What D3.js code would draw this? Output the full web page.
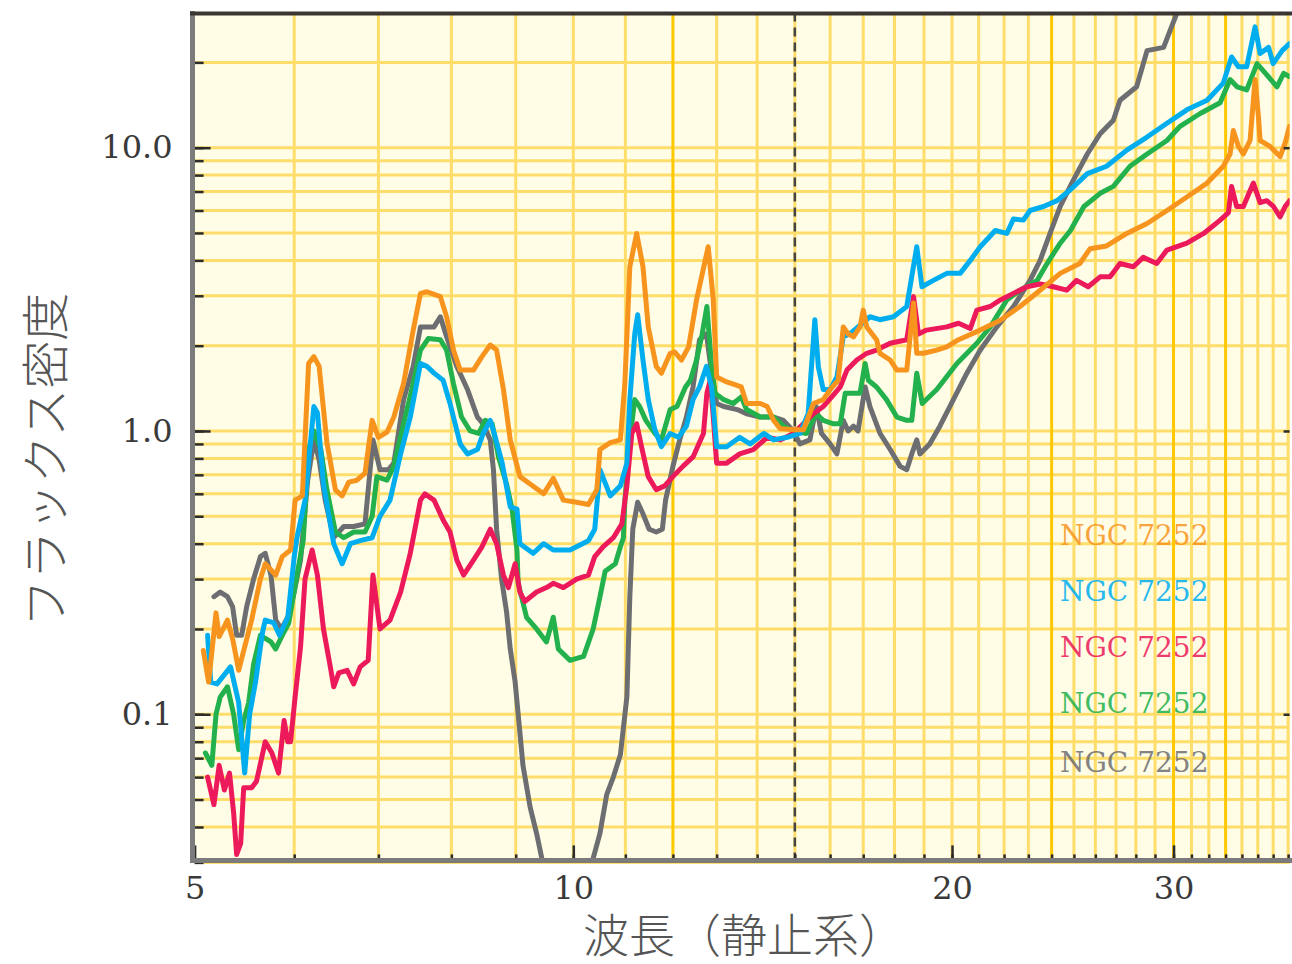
<!DOCTYPE html>
<html><head><meta charset="utf-8">
<script src="https://cdn.jsdelivr.net/npm/d3@7"></script>
<style>
html,body{margin:0;padding:0;background:#fff;}
svg{display:block;}
</style></head>
<body>
<svg id="chart" width="1292" height="964"></svg>
<script>
// ---------- data ----------
const xTickLabels = [5, 10, 20, 30];
const yTickLabels = [0.1, 1, 10];
const yTickText = ["0.1", "1.0", "10.0"];
const legendNames = ["NGC 7252", "NGC 7252", "NGC 7252", "NGC 7252", "NGC 7252"];
const restFrameBreak = 15;

const orangeSeries = [[5.08,0.168],[5.13,0.13],[5.20,0.228],[5.23,0.188],[5.31,0.215],[5.36,0.185],[5.42,0.143],[5.48,0.173],[5.55,0.215],[5.64,0.30],[5.69,0.34],[5.80,0.31],[5.87,0.36],[5.96,0.38],[6.01,0.57],[6.09,0.59],[6.16,1.73],[6.22,1.83],[6.28,1.69],[6.37,0.91],[6.47,0.62],[6.55,0.59],[6.63,0.66],[6.73,0.67],[6.83,0.71],[6.92,1.09],[7.0,0.95],[7.11,0.99],[7.20,1.12],[7.33,1.47],[7.46,2.27],[7.56,3.06],[7.65,3.1],[7.84,2.98],[7.93,2.53],[8.03,1.93],[8.13,1.64],[8.33,1.64],[8.46,1.83],[8.59,2.01],[8.69,1.93],[8.80,1.40],[8.91,0.93],[9.07,0.69],[9.24,0.65],[9.47,0.60],[9.64,0.68],[9.82,0.57],[10.06,0.56],[10.28,0.55],[10.44,0.62],[10.5,0.86],[10.7,0.91],[10.9,0.93],[10.99,1.48],[11.09,3.8],[11.23,4.98],[11.36,3.8],[11.47,2.33],[11.64,1.69],[11.75,1.6],[11.94,1.88],[12.04,1.9],[12.19,1.78],[12.35,1.98],[12.53,2.9],[12.8,4.47],[12.92,2.9],[13.0,1.55],[13.24,1.49],[13.6,1.43],[13.73,1.25],[14.08,1.25],[14.26,1.22],[14.43,1.09],[14.6,1.02],[14.96,1.01],[15.24,1.01],[15.52,1.25],[15.8,1.29],[16.0,1.40],[16.24,1.51],[16.39,2.33],[16.54,2.2],[16.7,2.15],[16.9,2.33],[17.0,2.67],[17.11,2.33],[17.42,2.1],[17.53,1.88],[17.86,1.78],[18.08,1.64],[18.41,1.64],[18.64,2.83],[18.75,1.88],[18.98,1.88],[19.45,1.93],[19.81,1.98],[20.24,2.1],[21.06,2.27],[21.85,2.46],[22.65,2.75],[23.5,3.14],[24.38,3.6],[25.27,3.9],[25.75,4.4],[26.54,4.5],[27.54,4.98],[28.58,5.4],[29.64,6.0],[30.74,6.7],[31.9,7.5],[32.86,8.6],[33.27,9.5],[33.47,11.5],[33.78,10.1],[34.09,9.5],[34.51,10.6],[34.83,17.4],[35.04,12.9],[35.15,10.6],[35.8,10.1],[36.46,9.3],[36.8,10.4],[37.1,11.9]];

const blueSeries = [[5.12,0.19],[5.15,0.13],[5.21,0.128],[5.34,0.147],[5.42,0.11],[5.48,0.062],[5.53,0.10],[5.59,0.13],[5.66,0.193],[5.69,0.215],[5.78,0.21],[5.84,0.19],[5.93,0.22],[6.0,0.36],[6.03,0.42],[6.12,0.57],[6.22,1.22],[6.26,1.16],[6.33,0.65],[6.45,0.40],[6.55,0.34],[6.65,0.40],[6.77,0.41],[6.92,0.42],[7.02,0.50],[7.15,0.57],[7.29,0.83],[7.42,1.12],[7.56,1.73],[7.65,1.69],[7.75,1.6],[7.88,1.51],[7.98,1.25],[8.13,0.90],[8.24,0.83],[8.39,0.86],[8.48,0.98],[8.59,1.09],[8.67,0.95],[8.78,0.77],[8.91,0.54],[9.02,0.53],[9.07,0.40],[9.29,0.37],[9.47,0.40],[9.64,0.38],[9.94,0.38],[10.28,0.41],[10.4,0.45],[10.5,0.73],[10.7,0.59],[10.9,0.64],[11.03,0.77],[11.09,1.29],[11.19,2.2],[11.25,2.57],[11.36,1.78],[11.47,1.29],[11.61,1.01],[11.75,0.88],[11.94,0.98],[12.12,0.95],[12.3,1.04],[12.45,1.29],[12.6,1.43],[12.76,1.69],[12.88,1.43],[13.0,0.88],[13.24,0.88],[13.56,0.95],[13.82,0.90],[14.17,0.98],[14.43,0.93],[14.79,0.95],[15.14,0.98],[15.37,1.15],[15.56,2.47],[15.66,1.68],[15.8,1.40],[16.0,1.40],[16.2,1.55],[16.39,2.15],[16.59,2.2],[17.21,2.53],[17.53,2.47],[17.97,2.53],[18.41,2.75],[18.75,4.47],[18.93,3.23],[19.33,3.4],[19.81,3.6],[20.3,3.6],[20.68,4.0],[21.06,4.47],[21.65,5.1],[22.11,4.98],[22.38,5.6],[22.79,5.55],[23.07,6.0],[23.65,6.2],[24.24,6.5],[24.84,7.1],[25.62,8.1],[26.54,8.6],[27.54,9.8],[28.58,10.9],[29.64,12.2],[30.74,13.6],[31.9,14.7],[32.86,16.9],[33.36,20.9],[33.78,19.3],[34.3,19.3],[34.83,26.7],[35.15,21.5],[35.7,22.6],[36.0,19.8],[36.6,22],[37.1,23.3]];

const pinkSeries = [[5.12,0.06],[5.18,0.048],[5.23,0.066],[5.28,0.054],[5.33,0.062],[5.37,0.045],[5.40,0.032],[5.44,0.035],[5.47,0.055],[5.55,0.055],[5.60,0.058],[5.69,0.08],[5.76,0.073],[5.83,0.062],[5.89,0.095],[5.93,0.08],[5.96,0.08],[6.01,0.115],[6.07,0.173],[6.12,0.30],[6.20,0.38],[6.26,0.31],[6.33,0.20],[6.41,0.147],[6.45,0.125],[6.51,0.14],[6.61,0.143],[6.69,0.128],[6.77,0.147],[6.87,0.155],[6.93,0.31],[7.02,0.20],[7.15,0.215],[7.29,0.27],[7.42,0.37],[7.56,0.57],[7.62,0.60],[7.75,0.57],[7.88,0.485],[7.98,0.44],[8.08,0.35],[8.18,0.31],[8.33,0.35],[8.46,0.39],[8.59,0.45],[8.69,0.40],[8.8,0.31],[8.88,0.28],[8.99,0.34],[9.07,0.27],[9.15,0.25],[9.35,0.27],[9.52,0.28],[9.64,0.29],[9.82,0.28],[10.06,0.30],[10.28,0.31],[10.4,0.36],[10.56,0.39],[10.76,0.42],[10.93,0.47],[11.03,0.64],[11.13,0.98],[11.23,1.06],[11.33,0.88],[11.47,0.69],[11.64,0.62],[11.82,0.64],[12.0,0.69],[12.22,0.75],[12.45,0.81],[12.69,0.98],[12.77,1.36],[12.85,1.51],[12.92,1.12],[13.0,0.77],[13.24,0.77],[13.56,0.83],[13.9,0.86],[14.26,0.95],[14.6,0.93],[14.96,0.98],[15.52,1.15],[15.8,1.22],[16.05,1.32],[16.3,1.43],[16.5,1.64],[16.8,1.78],[17.11,1.88],[17.42,1.93],[17.86,2.04],[18.41,2.1],[18.64,2.98],[18.81,2.2],[19.09,2.27],[19.81,2.33],[20.24,2.4],[20.68,2.3],[20.93,2.67],[21.45,2.75],[21.85,2.9],[22.38,3.06],[22.94,3.23],[23.5,3.3],[24.08,3.23],[24.67,3.14],[25.12,3.4],[25.66,3.23],[26.23,3.5],[26.71,3.5],[27.2,3.9],[27.87,3.8],[28.38,4.1],[29.09,3.9],[29.64,4.35],[30.74,4.6],[31.7,4.98],[32.67,5.55],[33.17,5.9],[33.36,7.3],[33.67,6.2],[34.09,6.2],[34.72,7.5],[35.15,6.4],[35.58,6.5],[36.02,6.2],[36.46,5.7],[36.8,6.2],[37.1,6.5]];

const greenSeries = [[5.10,0.073],[5.16,0.066],[5.20,0.10],[5.24,0.115],[5.31,0.125],[5.37,0.10],[5.42,0.075],[5.47,0.095],[5.52,0.11],[5.57,0.15],[5.64,0.19],[5.75,0.18],[5.80,0.17],[5.87,0.19],[5.94,0.21],[6.03,0.31],[6.10,0.41],[6.16,0.86],[6.22,1.0],[6.30,0.86],[6.37,0.62],[6.47,0.44],[6.57,0.42],[6.69,0.44],[6.83,0.44],[6.92,0.50],[6.98,0.69],[7.11,0.67],[7.20,0.75],[7.33,1.06],[7.46,1.47],[7.56,1.93],[7.67,2.12],[7.84,2.1],[7.93,1.93],[8.03,1.47],[8.15,1.12],[8.28,1.0],[8.41,0.98],[8.51,1.09],[8.62,1.06],[8.72,0.81],[8.85,0.65],[8.94,0.53],[9.02,0.38],[9.04,0.29],[9.18,0.22],[9.35,0.20],[9.52,0.18],[9.64,0.22],[9.73,0.17],[9.94,0.155],[10.19,0.16],[10.37,0.20],[10.5,0.26],[10.6,0.32],[10.8,0.34],[10.9,0.39],[10.96,0.42],[10.99,0.57],[11.09,0.93],[11.19,1.29],[11.29,1.22],[11.42,1.09],[11.61,0.98],[11.75,0.93],[11.94,1.19],[12.09,1.22],[12.28,1.43],[12.39,1.51],[12.53,1.78],[12.66,2.2],[12.77,2.75],[12.88,1.69],[12.96,1.36],[13.17,1.29],[13.4,1.25],[13.6,1.32],[13.73,1.19],[14.08,1.12],[14.43,1.12],[14.69,1.04],[14.96,1.0],[15.32,0.98],[15.6,1.15],[15.8,1.09],[16.1,1.06],[16.3,1.06],[16.45,1.36],[16.9,1.36],[17.06,1.73],[17.16,1.51],[17.42,1.43],[17.74,1.29],[18.08,1.12],[18.41,1.09],[18.58,1.09],[18.75,1.6],[18.94,1.25],[19.45,1.40],[20.18,1.73],[20.93,2.04],[21.45,2.33],[22.11,2.9],[22.65,3.14],[23.37,3.4],[23.8,3.9],[24.38,4.6],[24.84,5.1],[25.46,6.2],[26.23,6.9],[26.87,7.3],[27.7,8.6],[28.58,9.5],[29.64,10.6],[30.36,11.9],[31.5,13.2],[32.67,14.4],[33.27,17.4],[33.7,16.4],[34.3,16],[34.95,19.8],[35.5,18.3],[36.25,16.4],[36.7,18.3],[37.1,17.8]];

const graySeries = [[5.18,0.26],[5.24,0.27],[5.31,0.26],[5.36,0.24],[5.40,0.19],[5.45,0.19],[5.50,0.24],[5.57,0.30],[5.64,0.36],[5.69,0.37],[5.75,0.31],[5.80,0.215],[5.86,0.20],[5.93,0.22],[6.0,0.27],[6.07,0.35],[6.15,0.67],[6.22,0.93],[6.28,0.79],[6.35,0.57],[6.45,0.42],[6.57,0.46],[6.69,0.46],[6.83,0.47],[6.93,0.93],[7.02,0.73],[7.13,0.73],[7.20,0.77],[7.33,1.29],[7.46,1.69],[7.56,2.33],[7.75,2.33],[7.84,2.53],[7.93,2.15],[8.08,1.69],[8.24,1.40],[8.39,1.12],[8.48,1.06],[8.59,0.93],[8.64,0.73],[8.69,0.45],[8.77,0.30],[8.85,0.23],[8.91,0.17],[8.99,0.13],[9.04,0.10],[9.12,0.066],[9.24,0.047],[9.35,0.038],[9.44,0.031],[9.6,0.02],[10.2,0.02],[10.37,0.031],[10.5,0.038],[10.63,0.052],[10.76,0.06],[10.9,0.072],[11.03,0.115],[11.09,0.26],[11.15,0.45],[11.25,0.56],[11.36,0.51],[11.49,0.45],[11.64,0.44],[11.77,0.45],[11.84,0.57],[12.0,0.75],[12.15,0.93],[12.3,1.12],[12.45,1.43],[12.6,2.1],[12.76,2.2],[12.88,1.6],[13.0,1.25],[13.17,1.22],[13.5,1.19],[13.73,1.15],[14.08,1.12],[14.43,1.12],[14.69,1.09],[14.96,1.0],[15.14,0.90],[15.42,0.93],[15.6,1.22],[15.75,0.98],[16.0,0.90],[16.2,0.83],[16.39,1.09],[16.54,1.0],[16.7,1.04],[16.84,1.0],[17.06,1.43],[17.21,1.22],[17.53,0.98],[17.86,0.86],[18.19,0.75],[18.41,0.73],[18.58,0.83],[18.75,0.93],[18.86,0.83],[19.2,0.90],[19.56,1.04],[20.05,1.29],[20.55,1.6],[21.06,1.93],[21.71,2.33],[22.38,2.75],[23.07,3.4],[23.5,4.0],[23.93,4.98],[24.38,6.2],[24.98,7.7],[25.62,9.5],[26.23,11.2],[26.87,12.5],[27.2,14.7],[28.04,16.4],[28.58,22],[29.46,22.6],[29.82,26],[30.2,30],[30.6,33]];

const seriesList = [graySeries, greenSeries, pinkSeries, blueSeries, orangeSeries];
const seriesColors = ["#6d6e71", "#22b14c", "#ec1a5a", "#00aeef", "#f7941e"];
const legendColors = ["#f7941e", "#00aeef", "#ec1a5a", "#22b14c", "#6d6e71"];

const gridWaves = d3.range(6, 38);
const brightWaves = [12, 24, 30, 33];
const gridFlux = [0.03,0.04,0.05,0.06,0.07,0.08,0.09,0.1,0.2,0.3,0.4,0.5,0.6,0.7,0.8,0.9,1,2,3,4,5,6,7,8,9,10,20];

// ---------- scales ----------
const svg = d3.select("#chart");
const x = d3.scaleLog().domain([5, 37.1]).range([194.6, 1289.6]);
const y = d3.scaleLog().domain([0.03, 30]).range([862.4, 12.5]);
const [x0, x1] = x.range();
const [y0, y1] = y.range();

// plot background
svg.append("rect").attr("x", x0).attr("y", y1).attr("width", x1 - x0).attr("height", y0 - y1).attr("fill", "#fffde6");

// grid
const grid = svg.append("g");
grid.selectAll("line.h").data(gridFlux).join("line")
  .attr("x1", x0).attr("x2", x1).attr("y1", d => y(d)).attr("y2", d => y(d))
  .attr("stroke", "#ffdd6a").attr("stroke-width", 3);
grid.selectAll("line.v").data(gridWaves).join("line")
  .attr("x1", d => x(d)).attr("x2", d => x(d)).attr("y1", y1).attr("y2", y0)
  .attr("stroke", d => brightWaves.includes(d) ? "#ffc800" : "#ffdd6a").attr("stroke-width", 3);

// dashed rest-frame line
svg.append("line").attr("x1", x(restFrameBreak)).attr("x2", x(restFrameBreak)).attr("y1", y1).attr("y2", y0)
  .attr("stroke", "#444").attr("stroke-width", 2.5).attr("stroke-dasharray", "9,6");

// clip
svg.append("clipPath").attr("id", "clip").append("rect").attr("x", x0).attr("y", y1).attr("width", x1 - x0).attr("height", y0 - y1);

const line = d3.line().x(d => x(d[0])).y(d => y(d[1])).curve(d3.curveLinear);
svg.append("g").attr("clip-path", "url(#clip)").selectAll("path").data(seriesList).join("path")
  .attr("d", line).attr("fill", "none").attr("stroke", (d, i) => seriesColors[i])
  .attr("stroke-width", 5).attr("stroke-linejoin", "round").attr("stroke-linecap", "round");

// axes
const serif = "'DejaVu Serif', 'Liberation Serif', serif";
const leftMinor = svg.append("g").attr("transform", `translate(${x0},0)`)
  .call(d3.axisLeft(y).tickValues(gridFlux).tickSizeInner(-9).tickSizeOuter(0).tickFormat(""));
const leftMajor = svg.append("g").attr("transform", `translate(${x0},0)`)
  .call(d3.axisLeft(y).tickValues(yTickLabels).tickSizeInner(-16).tickSizeOuter(0).tickPadding(22)
    .tickFormat((d, i) => yTickText[i]));
const rightMajor = svg.append("g").attr("transform", `translate(${x1},0)`)
  .call(d3.axisRight(y).tickValues(yTickLabels).tickSizeInner(-6).tickSizeOuter(0).tickFormat(""));
const bottomMinor = svg.append("g").attr("transform", `translate(0,${y0})`)
  .call(d3.axisBottom(x).tickValues(gridWaves).tickSizeInner(-8).tickSizeOuter(0).tickFormat(""));
const bottomMajor = svg.append("g").attr("transform", `translate(0,${y0})`)
  .call(d3.axisBottom(x).tickValues(xTickLabels).tickSizeInner(-17).tickSizeOuter(0).tickPadding(14)
    .tickFormat(d3.format("d")));

[leftMinor, leftMajor, rightMajor, bottomMinor, bottomMajor].forEach(g => {
  g.select(".domain").remove();
  g.selectAll(".tick line").attr("stroke", "#2b2b2b").attr("stroke-width", 2.5);
  g.selectAll("text").attr("font-family", serif).attr("font-size", 32).attr("fill", "#3a3a3a");
});

// frame lines
svg.append("line").attr("x1", 192.5).attr("x2", 192.5).attr("y1", 11).attr("y2", 863).attr("stroke", "#7b7b7b").attr("stroke-width", 5);
svg.append("line").attr("x1", 190).attr("x2", 1292).attr("y1", 860.5).attr("y2", 860.5).attr("stroke", "#7b7b7b").attr("stroke-width", 5);
svg.append("line").attr("x1", 190).attr("x2", 1292).attr("y1", 13.5).attr("y2", 13.5).attr("stroke", "#3b3631").attr("stroke-width", 4);

// legend
svg.append("g").selectAll("text").data(legendNames).join("text")
  .attr("x", 1060).attr("y", (d, i) => [545, 601, 657, 713, 772][i])
  .attr("font-family", serif).attr("font-size", 28).attr("fill", (d, i) => legendColors[i])
  .attr("opacity", 0.85).text(d => d);

// axis titles
const cjk = "'Noto Sans CJK JP', 'Noto Sans CJK SC', sans-serif";
svg.append("text").attr("x", 744).attr("y", 952).attr("text-anchor", "middle")
  .attr("font-family", cjk).attr("font-size", 46).attr("font-weight", 300).attr("fill", "#555")
  .text("波長（静止系）");
svg.append("text").attr("transform", "translate(42,460) rotate(-90)").attr("text-anchor", "middle")
  .attr("dominant-baseline", "central")
  .attr("font-family", cjk).attr("font-size", 48).attr("font-weight", 300).attr("fill", "#555")
  .text("フラックス密度");
</script>
</body></html>
